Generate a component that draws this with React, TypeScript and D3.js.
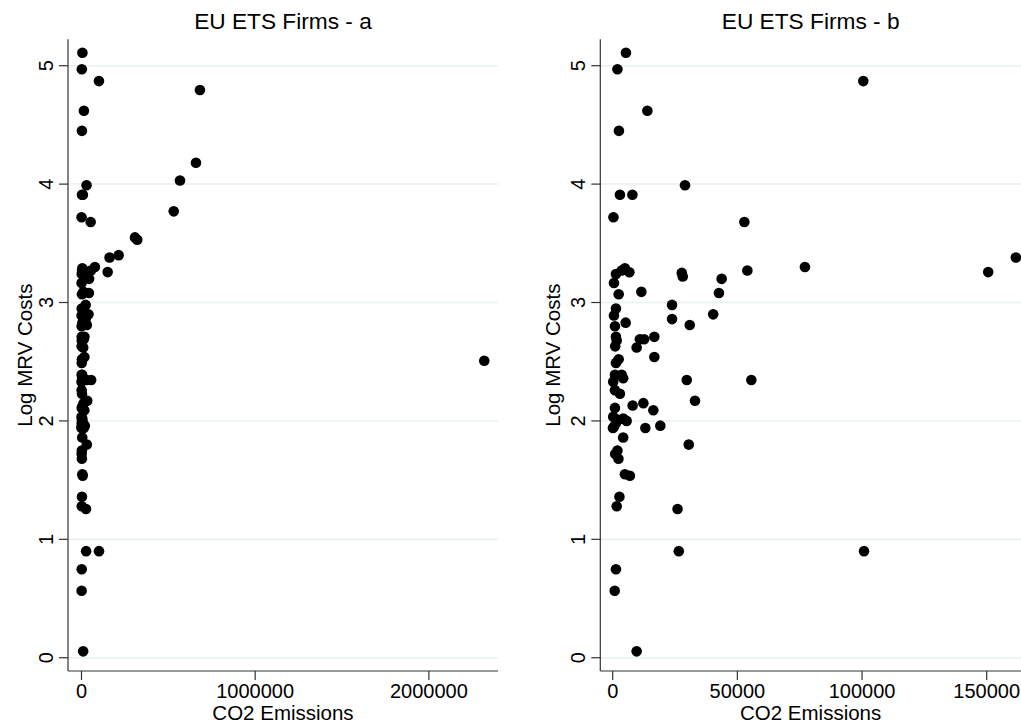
import React from "react";
import * as d3 from "d3";

// CO2 emissions (tonnes) and log MRV costs per firm
const emissions: number[] = [
  5300, 1900, 100500, 13900, 2500, 29000, 2900, 7900, 300, 52800,
  54000, 27700, 28100, 43700, 42600, 11500, 40300, 23800, 23800, 30900,
  16700, 9600, 10900, 12600, 16700, 77100, 150600, 161700, 100800, 26500,
  55600, 29700, 33000, 8000, 12300, 16300, 13100, 19100, 4200, 30500,
  26000, 9600, 3600, 4900, 6700, 1300, 500, 2400, 1300, 500,
  5200, 900, 1300, 1000, 1600, 1300, 2400, 900, 3600, 200,
  4200, 900, 2900, 900, 200, 2200, 4200, 5600, 500, 1300,
  100, 1900, 1000, 2300, 4900, 6900, 2700, 1600, 1300, 800,
  2319000, 682000, 659000, 567000, 531000, 308000, 321000, 214000,
];
const mrvCosts: number[] = [
  5.11, 4.97, 4.87, 4.62, 4.45, 3.99, 3.91, 3.91, 3.72, 3.68,
  3.27, 3.25, 3.22, 3.2, 3.08, 3.09, 2.9, 2.98, 2.86, 2.81,
  2.71, 2.62, 2.69, 2.69, 2.54, 3.3, 3.257, 3.38, 0.9, 0.9,
  2.345, 2.345, 2.17, 2.13, 2.15, 2.09, 1.94, 1.96, 1.86, 1.8,
  1.256, 0.054, 3.27, 3.29, 3.255, 3.24, 3.165, 3.07, 2.95, 2.89,
  2.83, 2.8, 2.71, 2.63, 2.68, 2.49, 2.52, 2.39, 2.39, 2.33,
  2.36, 2.26, 2.23, 2.11, 2.035, 2.01, 2.02, 2.0, 1.95, 1.98,
  1.94, 1.75, 1.72, 1.68, 1.55, 1.537, 1.36, 1.28, 0.747, 0.566,
  2.508, 4.795, 4.18, 4.03, 3.77, 3.55, 3.53, 3.4,
];

const yTicks: number[] = [0, 1, 2, 3, 4, 5];
const xTicksA: number[] = [0, 1000000, 2000000];
const xTicksB: number[] = [0, 50000, 100000, 150000];
const titles: string[] = ["EU ETS Firms - a", "EU ETS Firms - b"];
const xLabel = "CO2 Emissions";
const yLabel = "Log MRV Costs";

const points = emissions.map((e, i) => ({ x: e, y: mrvCosts[i] }));

const FONT = "'Liberation Sans', Arial, Helvetica, sans-serif";
const TOP = 39.3;
const BOTTOM = 671;
const GRID = "#e9f0f2";
const AXIS = "#333";

const yScale = d3.scaleLinear().domain([-0.112, 5.223]).range([BOTTOM, TOP]);

type PanelProps = {
  id: string;
  title: string;
  left: number;
  right: number;
  xDomain: [number, number];
  xTicks: number[];
  yLabelX: number;
};

function Panel({ id, title, left, right, xDomain, xTicks, yLabelX }: PanelProps) {
  const x = d3.scaleLinear().domain(xDomain).range([left, right]);
  const cx = (left + right) / 2;
  const cy = (TOP + BOTTOM) / 2;
  const visible = points.filter((p) => p.x >= xDomain[0] && p.x <= xDomain[1] * 1.03);
  return (
    <g>
      <defs>
        <clipPath id={id}>
          <rect x={left} y={TOP - 8} width={right - left + 6} height={BOTTOM - TOP + 8} />
        </clipPath>
      </defs>
      <text x={cx} y={29} textAnchor="middle" fontSize={22.7} fontFamily={FONT} fill="#000">
        {title}
      </text>
      {yTicks.map((t) => (
        <line key={"g" + t} x1={left} x2={right} y1={yScale(t)} y2={yScale(t)} stroke={GRID} strokeWidth={1.5} />
      ))}
      <line x1={left} x2={left} y1={TOP} y2={BOTTOM} stroke={AXIS} strokeWidth={1.2} />
      <line x1={left} x2={right} y1={BOTTOM} y2={BOTTOM} stroke={AXIS} strokeWidth={1.2} />
      {yTicks.map((t) => (
        <g key={"y" + t}>
          <line x1={left - 9} x2={left} y1={yScale(t)} y2={yScale(t)} stroke={AXIS} strokeWidth={1.2} />
          <text
            transform={`translate(${left - 15},${yScale(t)}) rotate(-90)`}
            textAnchor="middle"
            fontSize={20}
            fontFamily={FONT}
            fill="#000"
          >
            {t}
          </text>
        </g>
      ))}
      {xTicks.map((t) => (
        <g key={"x" + t}>
          <line x1={x(t)} x2={x(t)} y1={BOTTOM} y2={BOTTOM + 9} stroke={AXIS} strokeWidth={1.2} />
          <text x={x(t)} y={698} textAnchor="middle" fontSize={20} fontFamily={FONT} fill="#000">
            {t}
          </text>
        </g>
      ))}
      <text x={cx} y={720} textAnchor="middle" fontSize={20.5} fontFamily={FONT} fill="#000">
        {xLabel}
      </text>
      <text
        transform={`translate(${yLabelX},${cy}) rotate(-90)`}
        textAnchor="middle"
        fontSize={20.5}
        fontFamily={FONT}
        fill="#000"
      >
        {yLabel}
      </text>
      <g clipPath={`url(#${id})`}>
        {visible.map((p, i) => (
          <circle key={i} cx={x(p.x)} cy={yScale(p.y)} r={5.3} fill="#000" />
        ))}
      </g>
    </g>
  );
}

export default function App() {
  return (
    <svg
      width={1021}
      height={727}
      style={{ position: "absolute", left: 0, top: 0, background: "#fff" }}
    >
      <rect x={0} y={0} width={1021} height={727} fill="#fff" />
      <Panel
        id="clipA"
        title={titles[0]}
        left={68}
        right={498}
        xDomain={[-77700, 2398000]}
        xTicks={xTicksA}
        yLabelX={32}
      />
      <Panel
        id="clipB"
        title={titles[1]}
        left={600.3}
        right={1021}
        xDomain={[-4973, 163753]}
        xTicks={xTicksB}
        yLabelX={560}
      />
    </svg>
  );
}
